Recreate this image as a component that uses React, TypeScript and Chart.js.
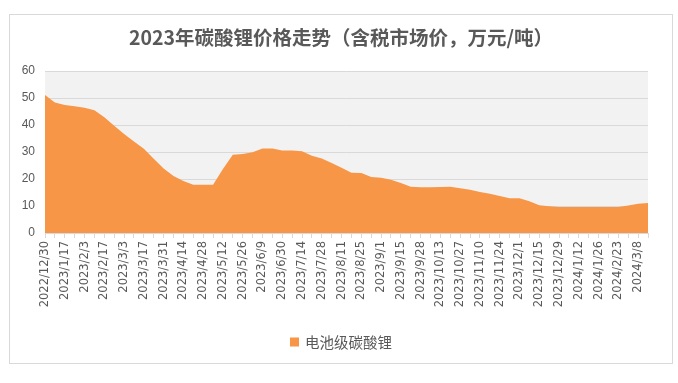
import React, { useEffect, useRef } from 'react';
import { Chart, registerables } from 'chart.js';

Chart.register(...registerables);

const titleText = '2023年碳酸锂价格走势（含税市场价，万元/吨）';
const seriesName = '电池级碳酸锂';
const seriesColor = '#f79646';

const categories = [
  '2022/12/30', '2023/1/6', '2023/1/17', '2023/1/20', '2023/2/3', '2023/2/10', '2023/2/17', '2023/2/24',
  '2023/3/3', '2023/3/10', '2023/3/17', '2023/3/24', '2023/3/31', '2023/4/7', '2023/4/14', '2023/4/21',
  '2023/4/28', '2023/5/5', '2023/5/12', '2023/5/19', '2023/5/26', '2023/6/2', '2023/6/9', '2023/6/16',
  '2023/6/30', '2023/7/7', '2023/7/14', '2023/7/21', '2023/7/28', '2023/8/4', '2023/8/11', '2023/8/18',
  '2023/8/25', '2023/8/29', '2023/9/1', '2023/9/8', '2023/9/15', '2023/9/22', '2023/9/28', '2023/10/8',
  '2023/10/13', '2023/10/20', '2023/10/27', '2023/11/3', '2023/11/10', '2023/11/17', '2023/11/24', '2023/11/28',
  '2023/12/1', '2023/12/8', '2023/12/15', '2023/12/22', '2023/12/29', '2024/1/5', '2024/1/12', '2024/1/19',
  '2024/1/26', '2024/2/8', '2024/2/23', '2024/3/1', '2024/3/8', '2024/3/15',
];

const priceValues = [
  51.1, 48.3, 47.4, 46.9, 46.4, 45.5, 42.9, 39.7, 36.7, 33.9,
  31.2, 27.5, 23.9, 21.1, 19.3, 17.9, 17.9, 17.9, 23.7, 29.0,
  29.3, 29.9, 31.3, 31.3, 30.6, 30.6, 30.3, 28.6, 27.6, 25.9,
  24.2, 22.3, 22.2, 20.7, 20.5, 19.7, 18.5, 17.1, 16.9, 16.9,
  17.0, 17.1, 16.6, 16.0, 15.2, 14.5, 13.7, 12.9, 12.9, 11.8,
  10.3, 9.9, 9.6, 9.6, 9.6, 9.6, 9.6, 9.6, 9.6, 10.2,
  10.8, 11.1,
];

const yMin = 0;
const yMax = 60;
const yStep = 10;

const plotBg = {
  id: 'plotBg',
  beforeDraw(chart: any) {
    const { ctx, chartArea } = chart;
    if (!chartArea) return;
    ctx.save();
    ctx.fillStyle = '#f2f2f2';
    ctx.fillRect(chartArea.left, chartArea.top, chartArea.right - chartArea.left, chartArea.bottom - chartArea.top);
    ctx.restore();
  },
};

const titleAndLegend = {
  id: 'titleAndLegend',
  afterDraw(chart: any) {
    const { ctx, width } = chart;
    const cx = width / 2;
    ctx.save();
    ctx.fillStyle = '#595959';
    ctx.textAlign = 'center';
    ctx.textBaseline = 'middle';
    ctx.font = 'bold 19.5px "Noto Sans CJK SC", sans-serif';
    ctx.fillText(titleText, cx, 23);

    ctx.font = '14.5px "Noto Sans CJK SC", sans-serif';
    const tw = ctx.measureText(seriesName).width;
    const box = 9;
    const gap = 6;
    const total = box + gap + tw;
    const x0 = cx - total / 2;
    const yc = 327;
    ctx.fillStyle = seriesColor;
    ctx.fillRect(x0, yc - box / 2, box, box);
    ctx.fillStyle = '#595959';
    ctx.textAlign = 'left';
    ctx.fillText(seriesName, x0 + box + gap, yc);
    ctx.restore();
  },
};

export default function App() {
  const ref = useRef<HTMLCanvasElement | null>(null);

  useEffect(() => {
    if (!ref.current) return;
    const chart = new Chart(ref.current, {
      type: 'line',
      data: {
        labels: categories,
        datasets: [
          {
            label: seriesName,
            data: priceValues,
            fill: 'origin',
            backgroundColor: seriesColor,
            borderColor: seriesColor,
            borderWidth: 0,
            pointRadius: 0,
            tension: 0,
          },
        ],
      },
      options: {
        responsive: false,
        animation: false,
        layout: { padding: { left: 0, right: 24, top: 56, bottom: 38 } },
        plugins: {
          title: { display: false },
          legend: { display: false },
          tooltip: { enabled: false },
        },
        scales: {
          x: {
            type: 'category',
            offset: false,
            grid: {
              display: true,
              drawOnChartArea: false,
              drawTicks: true,
              tickLength: 5,
              color: '#d9d9d9',
              offset: false,
            },
            border: { display: true, color: '#d9d9d9' },
            ticks: {
              autoSkip: false,
              minRotation: 90,
              maxRotation: 90,
              padding: 3,
              color: '#595959',
              font: { family: '"DejaVu Sans", sans-serif', size: 11.5 },
              callback: (_v: any, i: number) => (i % 2 === 0 ? categories[i] : ''),
            },
            afterFit: (s: any) => {
              s.height = 92;
            },
          },
          y: {
            min: yMin,
            max: yMax,
            grid: { color: '#d9d9d9', drawTicks: false, lineWidth: 1 },
            border: { display: false },
            ticks: {
              stepSize: yStep,
              padding: 10,
              color: '#595959',
              font: { family: '"Liberation Sans", sans-serif', size: 12 },
            },
            afterFit: (s: any) => {
              s.width = 35;
            },
          },
        },
      },
      plugins: [plotBg, titleAndLegend],
    });
    return () => chart.destroy();
  }, []);

  return (
    <div
      style={{
        position: 'absolute',
        left: 9,
        top: 14,
        width: 664,
        height: 350,
        border: '1px solid #d9d9d9',
        boxSizing: 'border-box',
        background: '#fff',
      }}
    >
      <canvas ref={ref} width={662} height={348} style={{ display: 'block', width: 662, height: 348 }} />
    </div>
  );
}
